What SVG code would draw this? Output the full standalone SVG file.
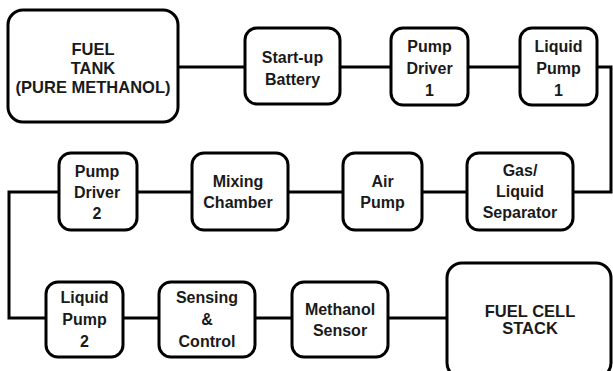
<svg xmlns="http://www.w3.org/2000/svg" width="613" height="371" viewBox="0 0 613 371">
<style>
.box{fill:#fff;stroke:#000;stroke-width:3}
.t{font-family:"Liberation Sans",Arial,sans-serif;font-weight:bold;font-size:16px;fill:#1a1a1a;text-anchor:middle}
.tb{font-size:16.5px}
.c{fill:none;stroke:#000;stroke-width:3;stroke-linejoin:miter}
</style>
<rect width="613" height="371" fill="#fff"/>
<g id="connectors">
<line class="c" x1="178" y1="67" x2="245" y2="67"/>
<line class="c" x1="340" y1="67" x2="391" y2="67"/>
<line class="c" x1="468" y1="67" x2="520" y2="67"/>
<polyline class="c" points="597,67 611,67 611,192 573,192"/>
<line class="c" x1="467" y1="192" x2="422" y2="192"/>
<line class="c" x1="343" y1="192" x2="288" y2="192"/>
<line class="c" x1="192" y1="192" x2="137" y2="192"/>
<polyline class="c" points="59,192 9,192 9,318 46,318"/>
<line class="c" x1="123" y1="318" x2="159" y2="318"/>
<line class="c" x1="255" y1="318" x2="292" y2="318"/>
<line class="c" x1="388" y1="318" x2="447" y2="318"/>
</g>
<g id="fuel-tank">
<rect class="box" x="8" y="10" width="170" height="112" rx="15"/>
<text class="t tb" x="93" y="55">FUEL</text>
<text class="t tb" x="93" y="74">TANK</text>
<text class="t tb" x="93" y="93">(PURE METHANOL)</text>
</g>
<g id="startup-battery">
<rect class="box" x="245" y="28" width="95" height="76" rx="12"/>
<text class="t" x="292.5" y="63">Start-up</text>
<text class="t" x="292.5" y="85">Battery</text>
</g>
<g id="pump-driver-1">
<rect class="box" x="391" y="28" width="77" height="77" rx="12"/>
<text class="t" x="429.5" y="52">Pump</text>
<text class="t" x="429.5" y="74">Driver</text>
<text class="t" x="429.5" y="95.5">1</text>
</g>
<g id="liquid-pump-1">
<rect class="box" x="520" y="28" width="77" height="77" rx="12"/>
<text class="t" x="558.5" y="52">Liquid</text>
<text class="t" x="558.5" y="74">Pump</text>
<text class="t" x="558.5" y="95.5">1</text>
</g>
<g id="pump-driver-2">
<rect class="box" x="59" y="153" width="78" height="77" rx="12"/>
<text class="t" x="97" y="177">Pump</text>
<text class="t" x="97" y="198">Driver</text>
<text class="t" x="97" y="219">2</text>
</g>
<g id="mixing-chamber">
<rect class="box" x="192" y="153" width="96" height="77" rx="12"/>
<text class="t" x="238" y="187">Mixing</text>
<text class="t" x="238" y="208">Chamber</text>
</g>
<g id="air-pump">
<rect class="box" x="343" y="153" width="79" height="77" rx="12"/>
<text class="t" x="382.5" y="187">Air</text>
<text class="t" x="382.5" y="208">Pump</text>
</g>
<g id="gas-liquid-separator">
<rect class="box" x="467" y="153" width="106" height="77" rx="12"/>
<text class="t" x="520" y="176">Gas/</text>
<text class="t" x="520" y="197">Liquid</text>
<text class="t" x="520" y="218">Separator</text>
</g>
<g id="liquid-pump-2">
<rect class="box" x="46" y="282" width="77" height="75" rx="12"/>
<text class="t" x="84.5" y="303">Liquid</text>
<text class="t" x="84.5" y="325">Pump</text>
<text class="t" x="84.5" y="347">2</text>
</g>
<g id="sensing-control">
<rect class="box" x="159" y="282" width="96" height="75" rx="12"/>
<text class="t" x="207" y="303">Sensing</text>
<text class="t" x="207" y="325">&amp;</text>
<text class="t" x="207" y="347">Control</text>
</g>
<g id="methanol-sensor">
<rect class="box" x="292" y="282" width="96" height="75" rx="12"/>
<text class="t" x="340" y="315">Methanol</text>
<text class="t" x="340" y="336">Sensor</text>
</g>
<g id="fuel-cell-stack">
<rect class="box" x="447" y="263" width="164" height="115" rx="15"/>
<text class="t tb" x="530" y="317">FUEL CELL</text>
<text class="t tb" x="530" y="334">STACK</text>
</g>
</svg>
